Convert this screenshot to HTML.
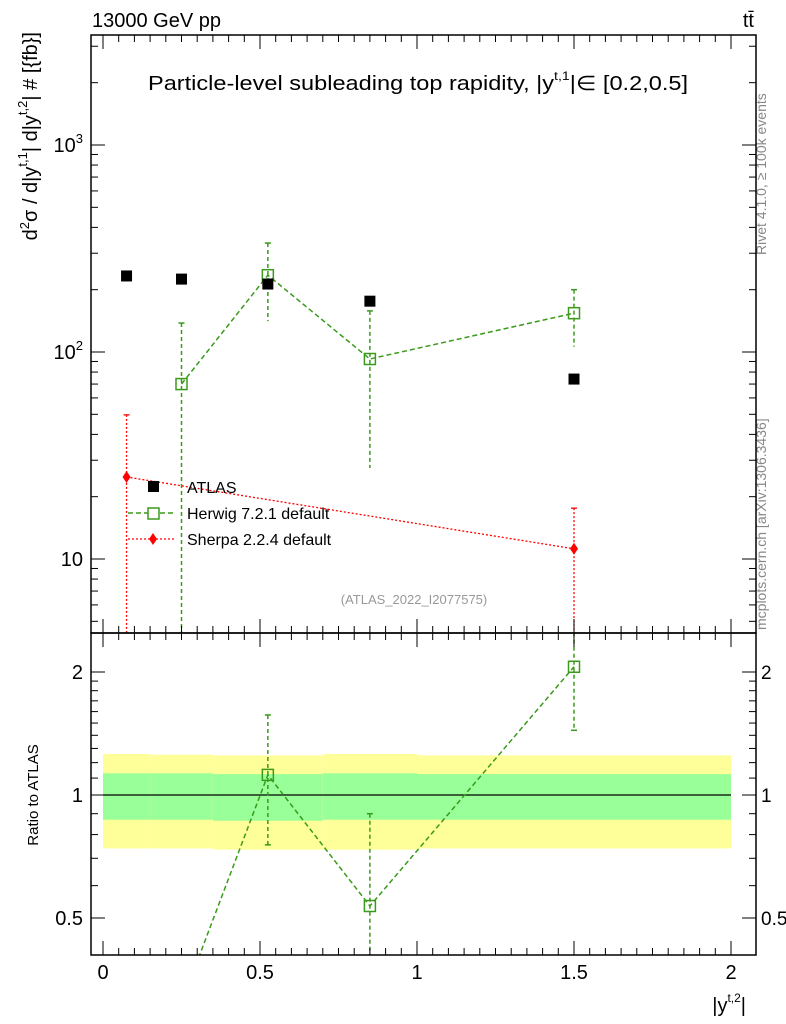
<!DOCTYPE html>
<html><head><meta charset="utf-8"><style>
html,body{margin:0;padding:0;background:#fff;overflow:hidden;width:786px;height:1024px;}
svg{display:block;font-family:"Liberation Sans",sans-serif;}
</style></head><body>
<svg id="chart" width="786" height="1024" viewBox="0 0 786 1024" xmlns="http://www.w3.org/2000/svg">
<text x="92" y="27" font-size="20">13000 GeV pp</text>
<text x="754" y="27" font-size="20" text-anchor="end">tt̄</text>
<text x="148" y="90" font-size="20" textLength="540" lengthAdjust="spacingAndGlyphs">Particle-level subleading top rapidity, |y<tspan dy="-10" font-size="12">t,1</tspan><tspan dy="10">|∈ [0.2,0.5]</tspan></text>
<text transform="translate(766,255) rotate(-90)" font-size="14" fill="#888">Rivet 4.1.0, ≥ 100k events</text>
<text transform="translate(766,630) rotate(-90)" font-size="14" fill="#888">mcplots.cern.ch [arXiv:1306.3436]</text>
<text x="414" y="604" font-size="13" fill="#999" text-anchor="middle">(ATLAS_2022_I2077575)</text>
<text transform="translate(37,32) rotate(-90)" font-size="20" text-anchor="end">d<tspan dy="-8" font-size="13">2</tspan><tspan dy="8">σ / d|y</tspan><tspan dy="-10" font-size="13">t,1</tspan><tspan dy="10">| d|y</tspan><tspan dy="-10" font-size="13">t,2</tspan><tspan dy="10">| # [{fb}]</tspan></text>
<text transform="translate(38,795) rotate(-90)" font-size="15" text-anchor="middle">Ratio to ATLAS</text>
<text x="746" y="1012" font-size="20" text-anchor="end">|y<tspan dy="-10" font-size="12">t,2</tspan><tspan dy="10">|</tspan></text>
<g id="g"></g>
</svg>
<script>
const xCenters=[0.075,0.25,0.525,0.85,1.5];
const binEdges=[0,0.15,0.35,0.7,1.0,2.0];
const atlasVals=[233,225,213,176,74];
const herwigX=[0.25,0.525,0.85,1.5];
const herwigVals=[70,235,92.5,154];
const herwigUp=[138,336,158,200];
const herwigDn=[1,141,27.5,106];
const sherpaX=[0.075,1.5];
const sherpaVals=[24.9,11.2];
const sherpaUp=[49.7,17.6];
const sherpaDn=[1,1];
const ratioHerwigVals=[0.31,1.12,0.535,2.06];
const ratioHerwigUp=[0.31,1.57,0.90,2.7];
const ratioHerwigDn=[0.1,0.755,0.1,1.44];
const bandYellowUp=[1.26,1.255,1.25,1.26,1.25];
const bandYellowDn=[0.74,0.74,0.735,0.735,0.74];
const bandGreenUp=[1.13,1.13,1.125,1.13,1.125];
const bandGreenDn=[0.87,0.87,0.865,0.87,0.87];
const mainYTicks=[10,100,1000];
const ratioTicks=[0.5,1,2];
const xTicks=[0,0.5,1,1.5,2];

const NS="http://www.w3.org/2000/svg";
const g=document.getElementById('g');
const L=91,R=756,T=35,M=633,B=955;
const X=v=>103+v*314;
const Y=v=>145-(Math.log10(v)-3)*207;
const RY=v=>795-Math.log2(v)*123;
function el(tag,a,parent){const e=document.createElementNS(NS,tag);for(const k in a)e.setAttribute(k,a[k]);(parent||g).appendChild(e);return e;}
const defs=el('defs',{});
const c1=el('clipPath',{id:'cm'},defs);el('rect',{x:L,y:T,width:R-L,height:M-T},c1);
const c2=el('clipPath',{id:'cr'},defs);el('rect',{x:L,y:M,width:R-L,height:B-M},c2);
const gm=el('g',{'clip-path':'url(#cm)'});


const gr=el('g',{'clip-path':'url(#cr)'});



for(let i=0;i<5;i++){
 const x0=X(binEdges[i]),x1=X(binEdges[i+1]);
 const y=el('rect',{x:x0,y:RY(bandYellowUp[i]),width:x1-x0,height:RY(bandYellowDn[i])-RY(bandYellowUp[i]),fill:'#ffff99'},gr);
 
 
 const gg=el('rect',{x:x0,y:RY(bandGreenUp[i]),width:x1-x0,height:RY(bandGreenDn[i])-RY(bandGreenUp[i]),fill:'#99ff99'},gr);
 
 
}
el('line',{x1:X(0),x2:X(2),y1:RY(1),y2:RY(1),stroke:'#000','stroke-width':1.2},gr);

const hg='#3a9a1a';
let pts=herwigX.map((x,i)=>X(x)+','+Y(herwigVals[i])).join(' ');
let hl=el('polyline',{points:pts,fill:'none',stroke:hg,'stroke-width':1.5,'stroke-dasharray':'5,3'},gm);


herwigX.forEach((x,i)=>{
 el('line',{x1:X(x),x2:X(x),y1:Y(herwigUp[i]),y2:Y(herwigDn[i]),stroke:hg,'stroke-width':1.5,'stroke-dasharray':'4,3'},gm);
 el('line',{x1:X(x)-3,x2:X(x)+3,y1:Y(herwigUp[i]),y2:Y(herwigUp[i]),stroke:hg,'stroke-width':1.5},gm);
 const m=el('rect',{x:X(x)-5.5,y:Y(herwigVals[i])-5.5,width:11,height:11,fill:'none',stroke:hg,'stroke-width':1.5},gm);
 
 
});
const sr='#ff0000';
pts=sherpaX.map((x,i)=>X(x)+','+Y(sherpaVals[i])).join(' ');
let sl=el('polyline',{points:pts,fill:'none',stroke:sr,'stroke-width':1.3,'stroke-dasharray':'2,2'},gm);


sherpaX.forEach((x,i)=>{
 el('line',{x1:X(x),x2:X(x),y1:Y(sherpaUp[i]),y2:Y(sherpaDn[i]),stroke:sr,'stroke-width':1.3,'stroke-dasharray':'2,2'},gm);
 el('line',{x1:X(x)-3,x2:X(x)+3,y1:Y(sherpaUp[i]),y2:Y(sherpaUp[i]),stroke:sr,'stroke-width':1.3},gm);
 const cx=X(x),cy=Y(sherpaVals[i]);
 const m=el('polygon',{points:`${cx},${cy-6} ${cx+4},${cy} ${cx},${cy+6} ${cx-4},${cy}`,fill:sr},gm);
 
 
});
xCenters.forEach((x,i)=>{
 const m=el('rect',{x:X(x)-5.5,y:Y(atlasVals[i])-5.5,width:11,height:11,fill:'#000'},gm);
 
 
});
pts=herwigX.map((x,i)=>X(x)+','+RY(ratioHerwigVals[i])).join(' ');
let rl=el('polyline',{points:pts,fill:'none',stroke:hg,'stroke-width':1.5,'stroke-dasharray':'5,3'},gr);


herwigX.forEach((x,i)=>{
 el('line',{x1:X(x),x2:X(x),y1:RY(ratioHerwigUp[i]),y2:RY(ratioHerwigDn[i]),stroke:hg,'stroke-width':1.5,'stroke-dasharray':'4,3'},gr);
 el('line',{x1:X(x)-3,x2:X(x)+3,y1:RY(ratioHerwigUp[i]),y2:RY(ratioHerwigUp[i]),stroke:hg,'stroke-width':1.5},gr);
 el('line',{x1:X(x)-3,x2:X(x)+3,y1:RY(ratioHerwigDn[i]),y2:RY(ratioHerwigDn[i]),stroke:hg,'stroke-width':1.5},gr);
 const m=el('rect',{x:X(x)-5.5,y:RY(ratioHerwigVals[i])-5.5,width:11,height:11,fill:'none',stroke:hg,'stroke-width':1.5},gr);
 
 
});

const lg=el('g',{});


el('rect',{x:148,y:481,width:11,height:11,fill:'#000'},lg);
el('text',{x:187,y:493,'font-size':16},lg).textContent='ATLAS';
el('line',{x1:128,x2:176,y1:513,y2:513,stroke:hg,'stroke-width':1.5,'stroke-dasharray':'5,3'},lg);
el('rect',{x:148,y:508,width:11,height:11,fill:'#fff',stroke:hg,'stroke-width':1.5},lg);
el('text',{x:187,y:519,'font-size':16},lg).textContent='Herwig 7.2.1 default';
el('line',{x1:128,x2:176,y1:539,y2:539,stroke:sr,'stroke-width':1.3,'stroke-dasharray':'2,2'},lg);
el('polygon',{points:'153,533 157,539 153,545 149,539',fill:sr},lg);
el('text',{x:187,y:545,'font-size':16},lg).textContent='Sherpa 2.2.4 default';

el('rect',{x:L,y:T,width:R-L,height:M-T,fill:'none',stroke:'#000','stroke-width':1.5});
el('rect',{x:L,y:M,width:R-L,height:B-M,fill:'none',stroke:'#000','stroke-width':1.5});
for(let d=0;d<=3;d++){for(let k=1;k<10;k++){const v=k*Math.pow(10,d);const y=Y(v);if(y<T||y>M)continue;const len=k==1?14:7;
 el('line',{x1:L,x2:L+len,y1:y,y2:y,stroke:'#000'});el('line',{x1:R,x2:R-len,y1:y,y2:y,stroke:'#000'});}}
mainYTicks.forEach((v,i)=>{const t=el('text',{x:L-8,y:Y(v)+7,'font-size':20,'text-anchor':'end'});
 if(i==0)t.textContent='10';else{t.textContent='10';const ts=el('tspan',{dy:-9,'font-size':13},t);ts.textContent=String(i+1);}
 
 });
[0.5,0.6,0.7,0.8,0.9,1,1.1,1.2,1.3,1.4,1.5,1.6,1.7,1.8,1.9,2].forEach(v=>{const y=RY(v);const len=ratioTicks.includes(v)?14:7;
 el('line',{x1:L,x2:L+len,y1:y,y2:y,stroke:'#000'});el('line',{x1:R,x2:R-len,y1:y,y2:y,stroke:'#000'});});
ratioTicks.forEach(v=>{
 const a=el('text',{x:L-8,y:RY(v)+7,'font-size':20,'text-anchor':'end'});a.textContent=String(v);
 
 
 const b=el('text',{x:R+5,y:RY(v)+7,'font-size':19});b.textContent=String(v);
 
 });
for(let i=0;i<=40;i++){const v=i*0.05;const x=X(v);if(x>R)continue;const major=i%10==0;const len=major?14:7;
 [T,M].forEach(y0=>el('line',{x1:x,x2:x,y1:y0,y2:y0+len,stroke:'#000'}));
 [M,B].forEach(y0=>el('line',{x1:x,x2:x,y1:y0,y2:y0-len,stroke:'#000'}));}
xTicks.forEach(v=>{const t=el('text',{x:X(v),y:979,'font-size':20,'text-anchor':'middle'});t.textContent=String(v);
 
 });
</script>
</body></html>
